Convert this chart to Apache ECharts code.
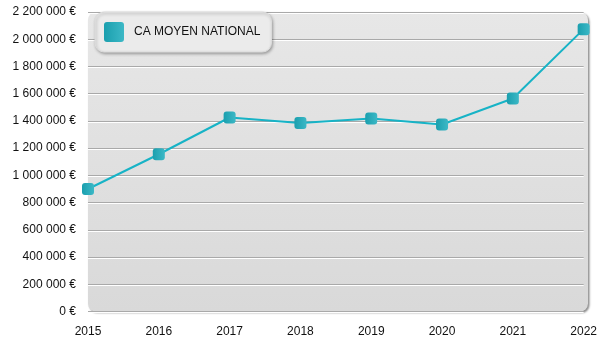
<!DOCTYPE html>
<html>
<head>
<meta charset="utf-8">
<script src="https://cdn.jsdelivr.net/npm/echarts@6/dist/echarts.min.js"></script>
<style>html,body{margin:0;padding:0;background:#fff}#c{width:600px;height:350px}</style>
</head>
<body>
<div id="c"></div>
<script>
const years = ['2015','2016','2017','2018','2019','2020','2021','2022'];
const caMoyen = [900000, 1155000, 1425000, 1384000, 1418000, 1374000, 1565000, 2074000];
const seriesName = 'CA MOYEN NATIONAL';
const yMin = 0, yMax = 2200000, yStep = 200000;

const G = {left: 88, right: 12, top: 12, bottom: 38.5};
const W = 600, H = 350;

function fmt(v){
  return String(Math.round(v)).replace(/\B(?=(\d{3})+(?!\d))/g, ' ') + ' €';
}

const chart = echarts.init(document.getElementById('c'), null, {renderer:'canvas'});
const font = 'Liberation Sans, Arial, sans-serif';
const teal = new echarts.graphic.LinearGradient(0,0,1,0,[{offset:0,color:'#1a9fae'},{offset:1,color:'#3cb8c6'}]);
chart.setOption({
  animation: false,
  textStyle: {fontFamily: font},
  graphic: [{
    type: 'rect', z: -10, silent: true,
    shape: {x: G.left, y: G.top, width: W - G.left - G.right, height: H - G.top - G.bottom, r: 8},
    style: {
      fill: new echarts.graphic.LinearGradient(0,0,0,1,[{offset:0,color:'#e7e7e7'},{offset:1,color:'#d9d9d9'}]),
      shadowColor: 'rgba(0,0,0,0.45)', shadowBlur: 2, shadowOffsetX: 1.5, shadowOffsetY: 1.5
    }
  }],
  grid: {left: G.left, right: G.right, top: G.top, bottom: G.bottom, containLabel: false},
  legend: {
    data: [seriesName],
    left: 95, top: 12,
    padding: [10, 11, 10, 9],
    backgroundColor: '#ebebeb',
    borderColor: '#dcdcdc', borderWidth: 1, borderRadius: 9,
    shadowColor: 'rgba(0,0,0,0.3)', shadowBlur: 3, shadowOffsetX: 1, shadowOffsetY: 1.5,
    icon: 'path://M3,0 L17,0 Q20,0 20,3 L20,17 Q20,20 17,20 L3,20 Q0,20 0,17 L0,3 Q0,0 3,0 Z',
    itemWidth: 20, itemHeight: 20,
    itemStyle: {color: teal},
    textStyle: {fontSize: 12, color: '#111', fontFamily: font, padding: [0,0,0,5]}
  },
  xAxis: {
    type: 'category', data: years, boundaryGap: false,
    axisLine: {show: false}, axisTick: {show: false},
    axisLabel: {color: '#111', fontSize: 12, margin: 14, fontFamily: font},
    splitLine: {show: false}
  },
  yAxis: {
    type: 'value', min: yMin, max: yMax, interval: yStep,
    axisLine: {show: false}, axisTick: {show: false},
    axisLabel: {color: '#111', fontSize: 12, margin: 12, fontFamily: font, formatter: fmt},
    splitLine: {lineStyle: {color: '#a9a9a9', width: 1, shadowColor: '#ffffff', shadowOffsetY: 1, shadowBlur: 0}}
  },
  series: [{
    name: seriesName, type: 'line', data: caMoyen,
    symbol: 'roundRect', symbolSize: 12, clip: false,
    lineStyle: {color: '#17b3c6', width: 2},
    itemStyle: {color: teal}
  }]
});
</script>
</body>
</html>
